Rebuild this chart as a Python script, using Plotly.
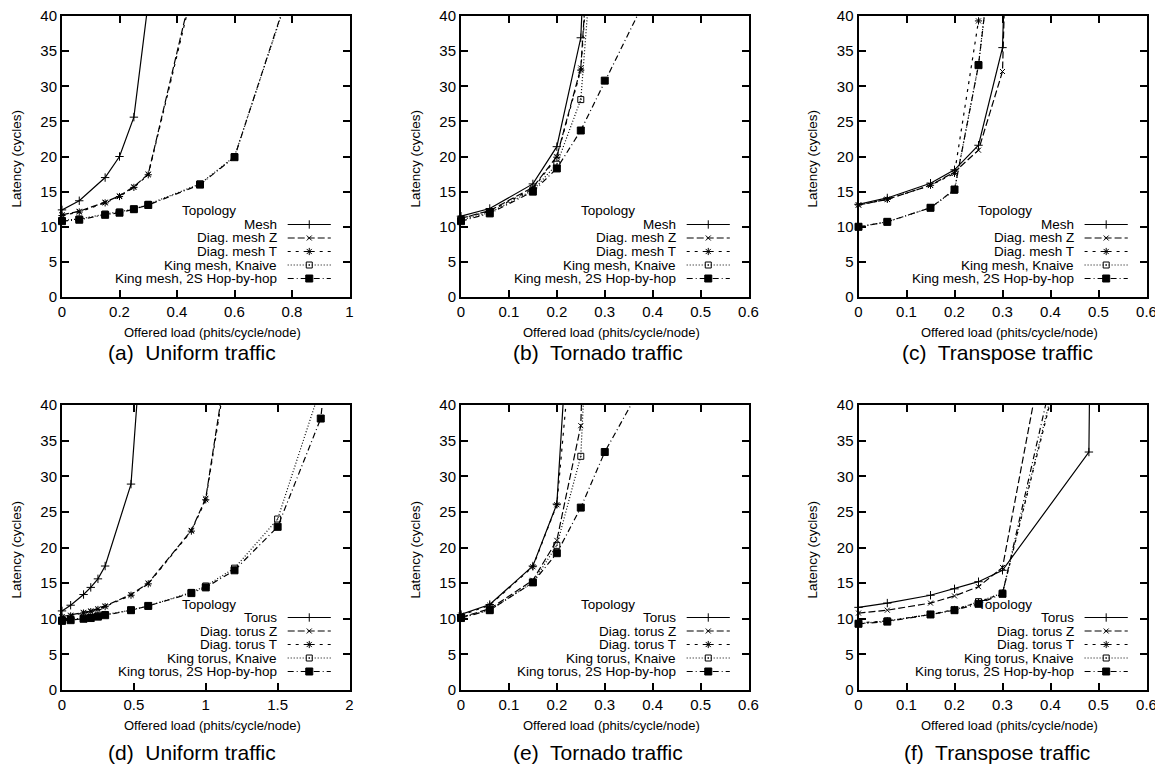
import plotly.graph_objects as go

# ---------------- data ----------------
# (a) Uniform traffic, mesh family
a_mesh_x = [0, 0.06, 0.15, 0.2, 0.25, 0.3]
a_mesh_y = [12.4, 13.7, 17.0, 20.0, 25.6, 42.0]
a_diag_x = [0, 0.06, 0.15, 0.2, 0.25, 0.3, 0.48]
a_diagz_y = [11.7, 12.2, 13.5, 14.4, 15.7, 17.5, 48.7]
a_diagt_y = [11.6, 12.1, 13.4, 14.3, 15.6, 17.4, 48.0]
a_king_x = [0, 0.06, 0.15, 0.2, 0.25, 0.3, 0.48, 0.6, 0.9]
a_knaive_y = [10.9, 11.1, 11.8, 12.1, 12.5, 13.2, 16.1, 20.0, 57.0]
a_2s_y = [10.8, 11.0, 11.7, 12.0, 12.5, 13.1, 16.0, 19.9, 57.5]

# (b) Tornado traffic, mesh family
b_x = [0, 0.06, 0.15, 0.2, 0.25, 0.3]
b_mesh_y = [11.5, 12.6, 16.1, 21.4, 36.9, 115.0]
b_diagz_y = [11.2, 12.3, 15.6, 20.0, 32.6, 85.0]
b_diagt_y = [11.2, 12.2, 15.4, 19.9, 32.3, 80.0]
b_knaive_y = [11.0, 12.0, 15.2, 18.9, 28.1, 72.0]
b_2s_x = [0, 0.06, 0.15, 0.2, 0.25, 0.3, 0.4]
b_2s_y = [10.8, 11.9, 15.0, 18.3, 23.7, 30.8, 44.5]

# (c) Transpose traffic, mesh family
c_x7 = [0, 0.06, 0.15, 0.2, 0.25, 0.3, 0.35]
c_mesh_y = [13.2, 14.1, 16.2, 18.1, 21.6, 35.5, 150.0]
c_diagz_y = [13.1, 13.9, 15.9, 17.8, 20.9, 32.1, 150.0]
c_x6 = [0, 0.06, 0.15, 0.2, 0.25, 0.3]
c_diagt_y = [13.1, 13.9, 15.9, 17.6, 39.3, 80.0]
c_knaive_y = [10.0, 10.7, 12.7, 15.2, 33.1, 62.0]
c_2s_y = [10.0, 10.7, 12.7, 15.3, 33.0, 62.0]

# (d) Uniform traffic, torus family
d_torus_x = [0, 0.06, 0.15, 0.2, 0.25, 0.3, 0.48, 0.6]
d_torus_y = [11.1, 11.9, 13.4, 14.4, 15.6, 17.4, 28.9, 62.0]
d_diag_x = [0, 0.06, 0.15, 0.2, 0.25, 0.3, 0.48, 0.6, 0.9, 1.0, 1.2]
d_diagz_y = [10.3, 10.5, 10.9, 11.1, 11.4, 11.8, 13.4, 15.0, 22.4, 26.9, 53.0]
d_diagt_y = [10.2, 10.4, 10.8, 11.0, 11.3, 11.7, 13.3, 14.9, 22.3, 26.7, 52.0]
d_knaive_x = [0, 0.06, 0.15, 0.2, 0.25, 0.3, 0.48, 0.6, 0.9, 1.0, 1.2, 1.5, 1.8]
d_knaive_y = [9.8, 9.9, 10.1, 10.2, 10.4, 10.6, 11.2, 11.8, 13.7, 14.6, 17.1, 24.0, 42.5]
d_2s_x = [0, 0.06, 0.15, 0.2, 0.25, 0.3, 0.48, 0.6, 0.9, 1.0, 1.2, 1.5, 1.8, 2.0]
d_2s_y = [9.7, 9.8, 10.0, 10.1, 10.3, 10.5, 11.2, 11.8, 13.6, 14.4, 16.8, 22.9, 38.1, 76.0]

# (e) Tornado traffic, torus family
e_x5 = [0, 0.06, 0.15, 0.2, 0.25]
e_torus_y = [10.6, 12.0, 17.4, 26.1, 80.0]
e_diagt_y = [10.5, 11.9, 17.3, 26.0, 63.0]
e_x6 = [0, 0.06, 0.15, 0.2, 0.25, 0.3]
e_diagz_y = [10.2, 11.4, 15.4, 21.0, 37.1, 150.0]
e_knaive_y = [10.2, 11.2, 15.1, 20.3, 32.8, 104.0]
e_2s_x = [0, 0.06, 0.15, 0.2, 0.25, 0.3, 0.4]
e_2s_y = [10.1, 11.2, 15.1, 19.2, 25.6, 33.4, 45.5]

# (f) Transpose traffic, torus family
f_torus_x = [0, 0.06, 0.15, 0.2, 0.25, 0.3, 0.48, 0.5]
f_torus_y = [11.6, 12.2, 13.3, 14.2, 15.2, 16.8, 33.4, 160.0]
f_x7 = [0, 0.06, 0.15, 0.2, 0.25, 0.3, 0.4]
f_diagz_y = [10.8, 11.2, 12.2, 13.2, 14.5, 17.2, 53.0]
f_diagt_y = [9.4, 9.7, 10.6, 11.3, 12.3, 13.6, 40.5]
f_knaive_y = [9.3, 9.7, 10.6, 11.2, 12.4, 13.6, 41.0]
f_2s_y = [9.3, 9.6, 10.6, 11.2, 12.1, 13.5, 43.0]

mesh_labels = ["Mesh", "Diag. mesh Z", "Diag. mesh T", "King mesh, Knaive", "King mesh, 2S Hop-by-hop"]
torus_labels = ["Torus", "Diag. torus Z", "Diag. torus T", "King torus, Knaive", "King torus, 2S Hop-by-hop"]
captions = ["(a)  Uniform traffic", "(b)  Tornado traffic", "(c)  Transpose traffic",
            "(d)  Uniform traffic", "(e)  Tornado traffic", "(f)  Transpose traffic"]
x_title = "Offered load (phits/cycle/node)"
y_title = "Latency (cycles)"
legend_title = "Topology"

panels = [
    dict(xmax=1.0, dtick=0.2, labels=mesh_labels,
         series=[(a_mesh_x, a_mesh_y), (a_diag_x, a_diagz_y), (a_diag_x, a_diagt_y),
                 (a_king_x, a_knaive_y), (a_king_x, a_2s_y)]),
    dict(xmax=0.6, dtick=0.1, labels=mesh_labels,
         series=[(b_x, b_mesh_y), (b_x, b_diagz_y), (b_x, b_diagt_y),
                 (b_x, b_knaive_y), (b_2s_x, b_2s_y)]),
    dict(xmax=0.6, dtick=0.1, labels=mesh_labels,
         series=[(c_x7, c_mesh_y), (c_x7, c_diagz_y), (c_x6, c_diagt_y),
                 (c_x6, c_knaive_y), (c_x6, c_2s_y)]),
    dict(xmax=2.0, dtick=0.5, labels=torus_labels,
         series=[(d_torus_x, d_torus_y), (d_diag_x, d_diagz_y), (d_diag_x, d_diagt_y),
                 (d_knaive_x, d_knaive_y), (d_2s_x, d_2s_y)]),
    dict(xmax=0.6, dtick=0.1, labels=torus_labels,
         series=[(e_x5, e_torus_y), (e_x6, e_diagz_y), (e_x5, e_diagt_y),
                 (e_x6, e_knaive_y), (e_2s_x, e_2s_y)]),
    dict(xmax=0.6, dtick=0.1, labels=torus_labels,
         series=[(f_torus_x, f_torus_y), (f_x7, f_diagz_y), (f_x7, f_diagt_y),
                 (f_x7, f_knaive_y), (f_x7, f_2s_y)]),
]

# ---------------- styles / layout ----------------
FONT = "Liberation Sans, Arial, Helvetica, sans-serif"
YMAX = 40
# the page body has an 8px margin, so the figure is shifted by 8px and sized to fit
OFF = 8
FW, FH = 1163 - OFF, 777 - 2 * OFF


def fx(px):
    return (px - OFF) / FW


def fy(py):
    return 1 - (py - OFF) / FH


styles = [
    dict(dash="solid", symbol="cross-thin", size=6),
    dict(dash="7px,3px", symbol="x-thin", size=5),
    dict(dash="3px,5px", symbol="asterisk", size=6),
    dict(dash="1px,2px", symbol="square-open-dot", size=6),
    dict(dash="6px,3px,1px,3px", symbol="square", size=7),
]
cols_px = [(62, 349.5), (461, 748.5), (858.5, 1146.5)]
rows_px = [(16, 297), (405, 690)]
caption_x = [192, 598, 997]
caption_y = [353, 752]
xtitle_dy = 35
ytitle_x = [16, 415, 812]

LEG_TEXT_R = 0.755
LEG_LINE = (0.785, 0.935)
LEG_ROW0_PX = 72.5    # legend first row, px above the x axis
LEG_STEP_PX = 13.5
LEG_TITLE_X = 0.51
LEG_TITLE_PX = 86

fig = go.Figure()
layout = dict(width=FW, height=FH, margin=dict(l=0, r=0, t=0, b=0, pad=0, autoexpand=False),
              paper_bgcolor="white", plot_bgcolor="white", showlegend=False,
              font=dict(family=FONT, color="black"))
annotations = []

for i, p in enumerate(panels):
    r, c = divmod(i, 3)
    n = i + 1
    ov = i + 7
    xs = "" if n == 1 else str(n)
    x0, x1 = cols_px[c]
    y0, y1 = rows_px[r]
    ph = y1 - y0
    xdom = [fx(x0), fx(x1)]
    ydom = [fy(y1), fy(y0)]
    axcommon = dict(showline=True, linewidth=2, linecolor="black", mirror="allticks",
                    ticks="inside", ticklen=7, tickwidth=2, tickcolor="black",
                    showgrid=False, zeroline=False, automargin=False,
                    ticklabeloverflow="allow",
                    tickfont=dict(size=15, family=FONT, color="black"))
    layout[f"xaxis{n}"] = dict(domain=xdom, anchor=f"y{xs}", range=[0, p["xmax"]],
                               dtick=p["dtick"], tick0=0, **axcommon)
    layout[f"yaxis{n}"] = dict(domain=ydom, anchor=f"x{xs}", range=[0, YMAX],
                               dtick=5, tick0=0, **axcommon)
    layout[f"xaxis{ov}"] = dict(overlaying=f"x{xs}", anchor=f"y{ov}", range=[0, 1],
                                visible=False, fixedrange=True, automargin=False)
    layout[f"yaxis{ov}"] = dict(overlaying=f"y{xs}", anchor=f"x{ov}", range=[0, 1],
                                visible=False, fixedrange=True, automargin=False)

    for k, ((sx, sy), st) in enumerate(zip(p["series"], styles)):
        fig.add_trace(go.Scatter(x=sx, y=sy, mode="lines", xaxis=f"x{xs}", yaxis=f"y{xs}",
                                 line=dict(color="black", width=1.2, dash=st["dash"]),
                                 hoverinfo="skip"))
        inside = [(a, b) for a, b in zip(sx, sy) if b <= YMAX]
        fig.add_trace(go.Scatter(x=[a for a, _ in inside], y=[b for _, b in inside],
                                 mode="markers", xaxis=f"x{xs}", yaxis=f"y{xs}",
                                 cliponaxis=False,
                                 marker=dict(symbol=st["symbol"], size=st["size"], color="black",
                                             line=dict(color="black", width=1)),
                                 hoverinfo="skip"))
        # legend sample
        ly = (LEG_ROW0_PX - k * LEG_STEP_PX) / ph
        fig.add_trace(go.Scatter(x=list(LEG_LINE), y=[ly, ly], mode="lines",
                                 xaxis=f"x{ov}", yaxis=f"y{ov}",
                                 line=dict(color="black", width=1.2, dash=st["dash"]),
                                 hoverinfo="skip"))
        fig.add_trace(go.Scatter(x=[sum(LEG_LINE) / 2], y=[ly], mode="markers",
                                 xaxis=f"x{ov}", yaxis=f"y{ov}",
                                 marker=dict(symbol=st["symbol"], size=st["size"], color="black",
                                             line=dict(color="black", width=1)),
                                 hoverinfo="skip"))
        annotations.append(dict(x=LEG_TEXT_R, y=ly, xref=f"x{xs} domain", yref=f"y{xs} domain",
                                text=p["labels"][k], showarrow=False, xanchor="right",
                                yanchor="middle", font=dict(size=13.5, family=FONT, color="black")))
    annotations.append(dict(x=LEG_TITLE_X, y=LEG_TITLE_PX / ph, xref=f"x{xs} domain",
                            yref=f"y{xs} domain", text=legend_title, showarrow=False,
                            xanchor="center", yanchor="middle",
                            font=dict(size=13.5, family=FONT, color="black")))
    # axis titles
    annotations.append(dict(x=fx((x0 + x1) / 2 + 7), y=fy(y1 + xtitle_dy), xref="paper",
                            yref="paper", text=x_title, showarrow=False, xanchor="center",
                            yanchor="middle", font=dict(size=13, family=FONT, color="black")))
    annotations.append(dict(x=fx(ytitle_x[c]), y=fy((y0 + y1) / 2 + 2), xref="paper",
                            yref="paper", text=y_title, showarrow=False, textangle=-90,
                            xanchor="center", yanchor="middle",
                            font=dict(size=13.5, family=FONT, color="black")))
    annotations.append(dict(x=fx(caption_x[c]), y=fy(caption_y[r]), xref="paper",
                            yref="paper", text=captions[i], showarrow=False, xanchor="center",
                            yanchor="middle", font=dict(size=21, family=FONT, color="black")))

layout["annotations"] = annotations
fig.update_layout(**layout)
fig.write_html("out.html")
